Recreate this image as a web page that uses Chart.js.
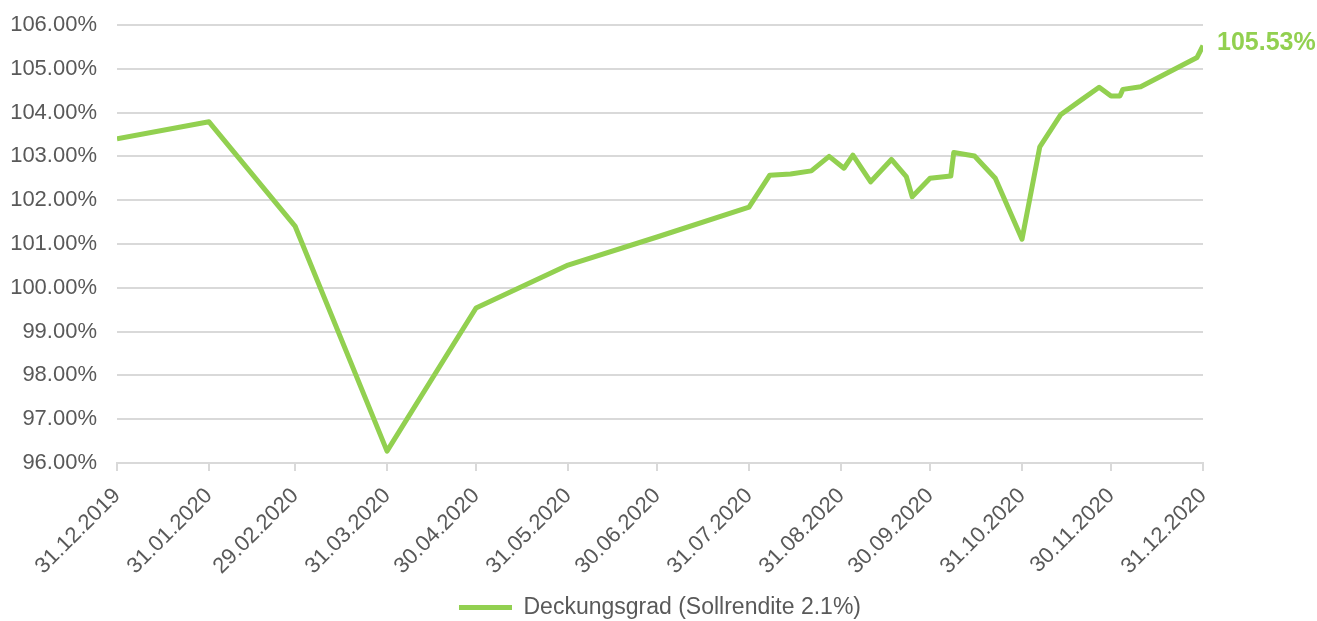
<!DOCTYPE html>
<html>
<head>
<meta charset="utf-8">
<script src="https://cdn.jsdelivr.net/npm/chart.js@4"></script>
<style>
  html, body { margin: 0; padding: 0; background: #fff; }
  #box { width: 1317px; height: 621px; }
</style>
</head>
<body>
<div id="box"><canvas id="grafico"></canvas></div>
<script>
// Stichtage und Deckungsgrad in %
const stichtage = [
  "31.12.2019", "31.01.2020", "29.02.2020", "31.03.2020", "30.04.2020", "31.05.2020", "30.06.2020", "31.07.2020",
  "07.08.2020", "14.08.2020", "21.08.2020", "27.08.2020", "01.09.2020", "04.09.2020", "10.09.2020", "17.09.2020",
  "22.09.2020", "24.09.2020", "30.09.2020", "07.10.2020", "08.10.2020", "15.10.2020", "22.10.2020", "31.10.2020",
  "06.11.2020", "13.11.2020", "20.11.2020", "26.11.2020", "30.11.2020", "03.12.2020", "04.12.2020", "10.12.2020",
  "29.12.2020", "31.12.2020"
];
const deckungsgrad = [
  103.40, 103.79, 101.41, 96.27, 99.54, 100.52, 101.16, 101.84,
  102.57, 102.60, 102.67, 103.00, 102.73, 103.03, 102.42, 102.93,
  102.54, 102.08, 102.50, 102.55, 103.09, 103.01, 102.50, 101.11,
  103.22, 103.95, 104.29, 104.58, 104.38, 104.38, 104.53, 104.59,
  105.26, 105.53
];
const achsenDaten = [
  "31.12.2019", "31.01.2020", "29.02.2020", "31.03.2020", "30.04.2020", "31.05.2020", "30.06.2020",
  "31.07.2020", "31.08.2020", "30.09.2020", "31.10.2020", "30.11.2020", "31.12.2020"
];
const serienName = "Deckungsgrad (Sollrendite 2.1%)";
const endLabel = "105.53%";

const GRUEN = "#92d050";
const GRAU_TEXT = "#595959";
const GRID = "#d9d9d9";
const FONT = "'Liberation Sans', Arial, sans-serif";

function tage(s) {
  const [d, m, y] = s.split(".").map(Number);
  return (Date.UTC(y, m - 1, d) - Date.UTC(2019, 11, 31)) / 86400000;
}

const tickTage = achsenDaten.map(tage);
const punkte = stichtage.map((s, i) => ({ x: tage(s), y: deckungsgrad[i] }));

// Wert am Linienende
const endLabelPlugin = {
  id: "endLabel",
  afterDatasetsDraw(chart) {
    const meta = chart.getDatasetMeta(0);
    const p = meta.data[meta.data.length - 1];
    const ctx = chart.ctx;
    ctx.save();
    ctx.font = "bold 25px " + FONT;
    ctx.fillStyle = GRUEN;
    ctx.textBaseline = "middle";
    ctx.fillText(endLabel, p.x + 14, p.y - 2);
    ctx.restore();
  }
};

new Chart(document.getElementById("grafico"), {
  type: "line",
  data: {
    datasets: [{
      label: serienName,
      data: punkte,
      borderColor: GRUEN,
      backgroundColor: GRUEN,
      borderWidth: 5,
      pointRadius: 0,
      tension: 0,
      borderJoinStyle: "round",
      borderCapStyle: "butt"
    }]
  },
  options: {
    responsive: true,
    maintainAspectRatio: false,
    animation: false,
    layout: { padding: { left: 10, right: 114, top: 25, bottom: -8 } },
    plugins: {
      tooltip: { enabled: false },
      legend: {
        position: "bottom",
        fullSize: false,
        labels: {
          usePointStyle: true,
          pointStyle: "line",
          pointStyleWidth: 53,
          color: GRAU_TEXT,
          font: { family: FONT, size: 23 },
          padding: 6
        }
      }
    },
    scales: {
      x: {
        type: "linear",
        min: 0,
        max: tickTage[tickTage.length - 1],
        afterBuildTicks: s => { s.ticks = tickTage.map(v => ({ value: v })); },
        afterFit: s => { s.height = 127; },
        ticks: {
          autoSkip: false,
          minRotation: 45,
          maxRotation: 45,
          color: GRAU_TEXT,
          font: { family: FONT, size: 22 },
          padding: 12,
          callback: (v) => achsenDaten[tickTage.indexOf(v)]
        },
        grid: { drawOnChartArea: false, color: GRID, lineWidth: 2, tickLength: 8 },
        border: { color: GRID, width: 2 }
      },
      y: {
        min: 96,
        max: 106,
        afterFit: s => { s.width = 107; },
        ticks: {
          stepSize: 1,
          color: GRAU_TEXT,
          font: { family: FONT, size: 22 },
          padding: 3,
          callback: v => v.toFixed(2) + "%"
        },
        grid: { color: GRID, lineWidth: 2, drawTicks: true, tickLength: 17, tickColor: "transparent" },
        border: { display: false }
      }
    }
  },
  plugins: [endLabelPlugin]
});
</script>
</body>
</html>
